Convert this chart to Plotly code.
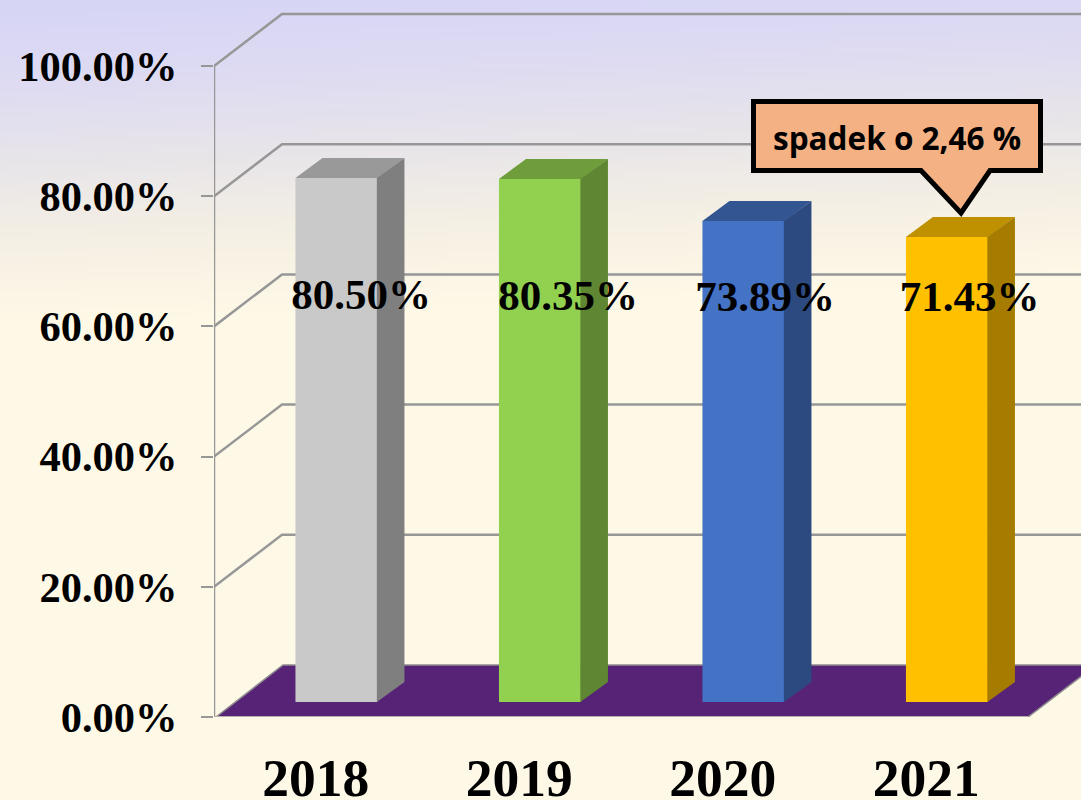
import base64, struct, zlib
import numpy as np
import plotly.graph_objects as go

categories = ["2018", "2019", "2020", "2021"]
values = [80.50, 80.35, 73.89, 71.43]
front_colors = ["#C9C9C9", "#92D050", "#4472C4", "#FFC000"]
side_colors = ["#7F7F7F", "#5F8632", "#2C4A80", "#A67C00"]
top_colors = ["#999999", "#6F9D3B", "#335693", "#BF9000"]
y_ticks = [0, 20, 40, 60, 80, 100]
callout_text = "spadek o 2,46 %"

W, H = 1081, 800
X0, Y0 = 214, 717          # pixel of the axis origin
CAT = 203.5                # pixels per category
UNIT = 6.51                # pixels per percent
WALL_DX, WALL_DY = 68, 52  # depth of the chart box
BAR_DX, BAR_DY = 27, 20    # depth of a bar
BAR_SHIFT, BAR_LIFT = 21, 15
BAR_W = 82
GREY = "#979797"
SERIF = "Liberation Serif"


def px(p):
    return -0.5 + (p - X0) / CAT


def py(p):
    return (Y0 - p) / UNIT


def gradient_png():
    w, h = 216, 160
    xs, ys = np.meshgrid(np.linspace(0, 1, w), np.linspace(0, 800, h))
    t = np.clip((ys + 45 * xs) / 320, 0, 1)
    stops = np.array([[214, 213, 245], [222, 219, 243], [232, 229, 234], [245, 240, 228], [254, 248, 231]], float)
    pos = [0, .25, .5, .75, 1]
    img = np.stack([np.interp(t, pos, stops[:, c]) for c in range(3)], axis=-1).astype(np.uint8)
    raw = b"".join(b"\x00" + img[r].tobytes() for r in range(h))

    def chunk(tag, data):
        return struct.pack(">I", len(data)) + tag + data + struct.pack(">I", zlib.crc32(tag + data))
    png = b"\x89PNG\r\n\x1a\n" + chunk(b"IHDR", struct.pack(">IIBBBBB", w, h, 8, 2, 0, 0, 0)) \
        + chunk(b"IDAT", zlib.compress(raw)) + chunk(b"IEND", b"")
    return "data:image/png;base64," + base64.b64encode(png).decode()


fig = go.Figure()

# Box: floor, left wall, gridlines
shapes = []
floor = [(X0 + 2, Y0), (X0 + WALL_DX + 1, Y0 - WALL_DY), (1096, Y0 - WALL_DY), (1028, Y0)]
shapes.append(dict(type="path", xref="x", yref="y", layer="below",
                   path="M " + " L ".join(f"{px(a)},{py(b)}" for a, b in floor) + " Z",
                   fillcolor="#562376", line=dict(color="#8E8A8E", width=1.5)))
for v in y_ticks[1:]:
    yp = Y0 - v * UNIT
    pts = [(X0, yp), (X0 + WALL_DX, yp - WALL_DY), (1085, yp - WALL_DY)]
    shapes.append(dict(type="path", xref="x", yref="y", layer="below",
                       path="M " + " L ".join(f"{px(a)},{py(b)}" for a, b in pts),
                       line=dict(color=GREY, width=2.5)))
shapes.append(dict(type="line", xref="x", yref="y", layer="below", x0=px(X0), x1=px(X0), y0=0, y1=100,
                   line=dict(color=GREY, width=2.5)))
shapes.append(dict(type="line", xref="x", yref="y", layer="below", x0=px(X0), x1=px(1028), y0=0, y1=0,
                   line=dict(color="#B5B1A8", width=2)))

# Bars
centers = [i + (BAR_SHIFT - 0.3) / CAT for i in range(len(categories))]
half = BAR_W / CAT / 2
lift = BAR_LIFT / UNIT
ddx, ddy = BAR_DX / CAT, BAR_DY / UNIT
seam = 0.6 / CAT
fig.add_trace(go.Bar(x=centers, y=values, base=lift, width=BAR_W / CAT,
                     marker=dict(color=front_colors, line=dict(width=0)), showlegend=False, hoverinfo="skip"))
for c, v, side, top in zip(centers, values, side_colors, top_colors):
    r, l, t, b = c + half, c - half, v + lift, lift
    fig.add_trace(go.Scatter(x=[l, r, r + ddx, l + ddx, l], y=[t, t, t + ddy, t + ddy, t], mode="lines",
                             fill="toself", fillcolor=top, line=dict(width=0), showlegend=False, hoverinfo="skip"))
    fig.add_trace(go.Scatter(x=[r - seam, r + ddx, r + ddx, r - seam, r - seam], y=[b, b + ddy, t + ddy, t, b],
                             mode="lines", fill="toself", fillcolor=side, line=dict(width=0),
                             showlegend=False, hoverinfo="skip"))

# Data labels
label_pixel_x = [361, 568, 765, 969.5]
label_pixel_y = [298, 299, 300, 300]
fig.add_trace(go.Scatter(x=[px(p) for p in label_pixel_x], y=[py(p) for p in label_pixel_y], mode="text",
                         text=[f"{v:.2f}%" for v in values], textposition="middle center",
                         textfont=dict(family=SERIF, size=43, color="#000000", weight="bold"),
                         showlegend=False, hoverinfo="skip", cliponaxis=False))

# Callout
c_pts = [(753.5, 101.5), (1040.5, 101.5), (1040.5, 170.5), (990, 170.5), (961, 213), (921, 170.5), (753.5, 170.5)]
shapes.append(dict(type="path", xref="x", yref="y", layer="above",
                   path="M " + " L ".join(f"{px(a)},{py(b)}" for a, b in c_pts) + " Z",
                   fillcolor="#F4B183", line=dict(color="#000000", width=5)))

fig.update_layout(
    width=W, height=H,
    autosize=False,
    margin=dict(l=X0, r=0, t=0, b=H - Y0, pad=0),
    paper_bgcolor="#FEF8E7", plot_bgcolor="rgba(0,0,0,0)",
    showlegend=False, barmode="overlay",
    shapes=shapes,
    images=[dict(source=gradient_png(), xref="paper", yref="paper", x=-X0 / (W - X0), y=1,
                 sizex=W / (W - X0), sizey=H / Y0, sizing="stretch", xanchor="left", yanchor="top", layer="below")],
    annotations=[dict(x=px(897), y=py(137), xref="x", yref="y", text=callout_text, showarrow=False,
                      font=dict(family="Open Sans", size=31.5, color="#000000", weight="bold"))],
    xaxis=dict(range=[px(X0), px(W)], tickvals=list(range(len(categories))), ticktext=categories,
               showgrid=False, zeroline=False, showline=False, ticks="", ticklabelstandoff=24, automargin=False,
               tickfont=dict(family=SERIF, size=53.5, color="#000000", weight="bold")),
    yaxis=dict(range=[0, py(0)], tickvals=y_ticks, ticktext=[f"{v:.2f}%" for v in y_ticks],
               showgrid=False, zeroline=False, showline=False, ticks="outside", ticklen=12, tickcolor=GREY,
               tickwidth=2, ticklabelstandoff=15, automargin=False,
               tickfont=dict(family=SERIF, size=42.5, color="#000000", weight="bold")),
)

fig.write_html("out.html", config=dict(displayModeBar=False),
               post_script="document.body.style.margin='0';document.documentElement.style.overflow='hidden';")
